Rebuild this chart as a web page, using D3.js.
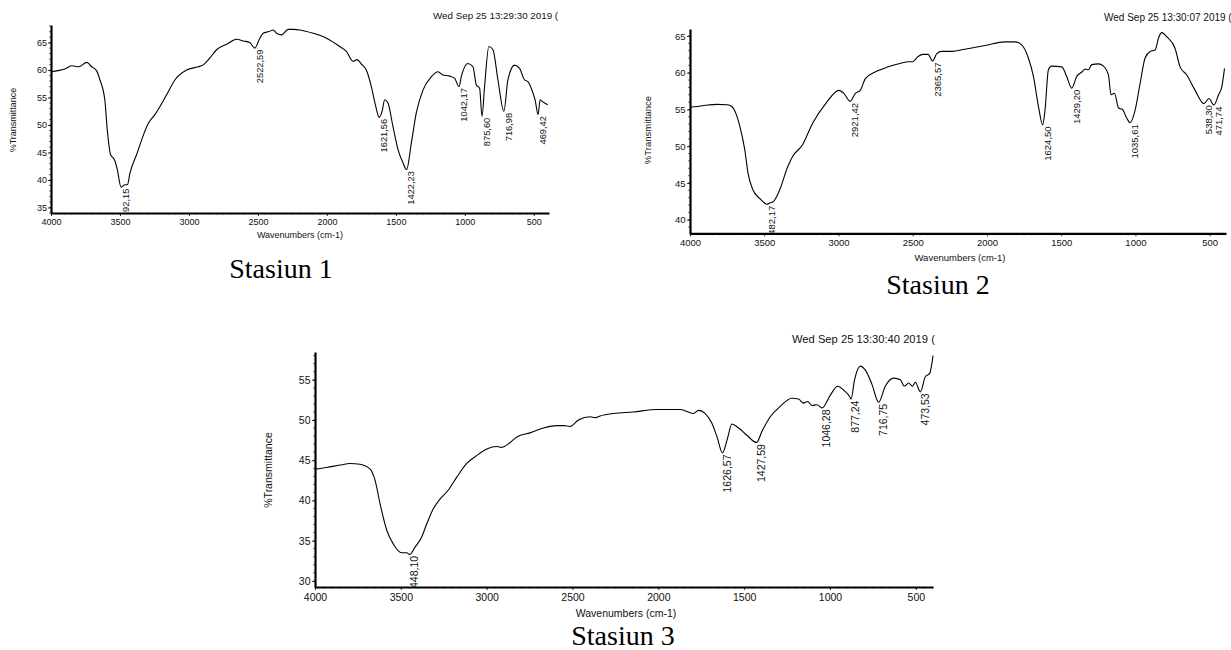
<!DOCTYPE html>
<html>
<head>
<meta charset="utf-8">
<script src="https://cdn.jsdelivr.net/npm/d3@7"></script>
<style>
  body { margin: 0; background: #fff; }
  svg { display: block; }
  text { font-family: "Liberation Sans", Arial, sans-serif; fill: #111; }
  .caption { font-family: "Liberation Serif", "Times New Roman", serif; fill: #000; }
</style>
</head>
<body>
<svg id="fig" width="1231" height="650"></svg>
<script>
// ---- FTIR spectra (wavenumber in cm-1, %T) ----
const wn1 = [4000,3950,3900,3850,3800,3740,3705,3670,3645,3610,3592,3568,3540,3520,3492.15,3471,3445,3428,3380,3295,3247,3162,3102,3017,2933,2900,2848,2800,2720,2655,2607,2559,2522.59,2490,2462,2420,2390,2365,2329,2281,2240,2197,2100,2003,1907,1859,1810,1781,1750,1714,1678,1646,1621.56,1600,1581,1557,1521,1484,1448,1422.23,1388,1352,1303,1243,1195,1159,1110,1074,1042.17,1026,978,941,917,893,875.60,857,826,796,760,716.98,688,640,603,567,543,519,490,469.42,454,440,422,400];
const t1 = [59.7,59.9,60.2,60.8,60.6,61.4,60.6,59.9,58.2,54.6,49.1,44.6,43.7,42.0,38.7,39.1,39.2,41.2,44.6,50.3,51.9,55.5,58.2,60.0,60.6,60.9,62.2,63.7,64.8,65.6,65.3,65.0,64.0,65.6,66.7,67.0,67.3,66.7,66.4,67.4,67.4,67.3,66.7,65.8,64.3,63.4,61.6,61.9,61.1,60.0,57.0,53.4,51.4,52.5,54.6,54.0,49.7,45.5,43.1,41.9,46.7,52.2,56.4,58.8,59.7,59.1,58.9,58.5,57.0,58.8,61.2,60.6,57.3,56.7,51.6,57.0,64.3,63.7,58.2,52.5,58.2,60.9,60.3,58.2,57.9,56.7,54.5,51.9,54.6,54.3,54.0,53.7];
const peaks1 = [3492.15,2522.59,1621.56,1422.23,1042.17,875.60,716.98,469.42];

const wn2 = [4000,3950,3880,3820,3750,3719,3686,3664,3631,3609,3575,3531,3500,3482.17,3460,3442,3397,3342,3309,3242,3175,3086,2997,2964,2921.42,2886,2853,2819,2753,2664,2580,2531,2500,2464,2431,2397,2365.57,2338,2305,2237,2148,2013,1878,1811,1766,1721,1687,1653,1624.50,1609,1586,1564,1496,1463,1429.20,1395,1361,1339,1317,1294,1249,1215,1182,1164,1141,1114,1087,1058,1035.61,1002,968,935,901,867,845,822,789,733,699,654,598,538.30,505,471.74,440,418,400];
const t2 = [55.3,55.4,55.6,55.7,55.65,55.4,54.2,52.7,49.5,46.3,44.0,42.9,42.3,42.1,42.3,42.4,44.0,47.2,48.6,50.2,53.1,55.8,57.6,57.2,56.1,57.2,57.6,59.2,60.1,60.8,61.3,61.5,61.5,62.2,62.5,62.5,61.6,62.6,62.9,62.9,63.2,63.7,64.2,64.2,63.8,62.0,59.5,55.4,52.9,54.9,60.4,60.9,60.8,59.5,57.9,59.5,60.1,60.5,60.4,61.1,61.2,60.9,59.7,57.0,57.2,55.2,55.0,53.8,53.2,54.9,58.6,62.0,62.9,63.1,64.7,65.45,64.9,63.3,60.8,59.7,57.6,55.8,56.5,55.6,57.0,58.1,60.6];
const peaks2 = [3482.17,2921.42,2365.57,1624.50,1429.20,1035.61,538.30,471.74];

const wn3 = [4000,3932,3854,3796,3738,3679,3650,3621,3582,3544,3495,3466,3448.10,3417,3378,3349,3310,3271,3223,3174,3116,3057,2999,2941,2912,2863,2824,2747,2669,2591,2552,2514,2465,2397,2368,2339,2261,2145,2008,1872,1795,1766,1727,1688,1658,1626.57,1600,1571,1532,1484,1427.59,1396,1348,1290,1222,1183,1154,1130,1105,1076,1046.28,998,955,920,885,877.24,857,823,794,755,716.75,678,629,590,567,542,520,503,473.53,444,419,400];
const t3 = [43.9,44.1,44.4,44.6,44.5,43.9,42.5,39.6,36.3,34.6,33.5,33.5,33.3,34.2,35.5,37.1,39.0,40.2,41.3,42.9,44.6,45.6,46.4,46.7,46.6,47.2,47.9,48.4,49.0,49.3,49.3,49.2,50.0,50.4,50.3,50.5,50.8,51.0,51.3,51.3,50.8,51.2,50.8,49.6,47.9,45.9,47.5,49.5,49.0,48.1,47.2,48.6,50.4,51.7,52.7,52.6,52.1,52.3,51.8,51.9,51.5,53.1,54.2,53.7,52.9,52.6,55.0,56.7,56.2,54.4,52.2,54.2,55.2,55.0,54.2,54.6,54.2,54.7,53.5,55.4,55.8,58.0];
const peaks3 = [3448.10,1626.57,1427.59,1046.28,877.24,716.75,473.53];

const xTicks = [4000,3500,3000,2500,2000,1500,1000,500];
const yTicks1 = [35,40,45,50,55,60,65];
const yTicks2 = [40,45,50,55,60,65];
const yTicks3 = [30,35,40,45,50,55];

const stamps = ["Wed Sep 25 13:29:30 2019 (",
                "Wed Sep 25 13:30:07 2019 (",
                "Wed Sep 25 13:30:40 2019 ("];
const captions = ["Stasiun 1", "Stasiun 2", "Stasiun 3"];
const xTitle = "Wavenumbers (cm-1)";
const yTitle = "%Transmittance";

// ---- panel geometry ----
const panels = [
  { wn: wn1, t: t1, peaks: peaks1, yTicks: yTicks1, stamp: stamps[0], caption: captions[0],
    left: 51, right: 549, top: 25, bottom: 213, xDomain: [4000, 390], yDomain: [34, 68.2],
    font: 9, peakFont: 9.3, stampFont: 9.8, stampPos: [433, 19], xTitlePos: [300, 238], yTitlePos: [13, 120],
    captionPos: [281, 278], xPad: 2.5, yPad: 1 },
  { wn: wn2, t: t2, peaks: peaks2, yTicks: yTicks2, stamp: stamps[1], caption: captions[1],
    left: 690, right: 1226, top: 29, bottom: 233.3, xDomain: [4000, 390], yDomain: [38.15, 65.95],
    font: 9.5, peakFont: 9.5, stampFont: 10, stampPos: [1104, 21], xTitlePos: [960, 260.5], yTitlePos: [648, 130],
    captionPos: [938, 294], xPad: 3, yPad: 1.5 },
  { wn: wn3, t: t3, peaks: peaks3, yTicks: yTicks3, stamp: stamps[2], caption: captions[2],
    left: 315, right: 933, top: 352, bottom: 587, xDomain: [4000, 400], yDomain: [29.25, 58.45],
    font: 10.5, peakFont: 10.5, stampFont: 11.2, stampPos: [792, 343], xTitlePos: [626, 617], yTitlePos: [268, 470],
    captionPos: [623, 645], xPad: 3.3, yPad: 1.5 }
];

const svg = d3.select("#fig");
const fmt = d3.format(".2f");

panels.forEach((p, i) => {
  const x = d3.scaleLinear().domain(p.xDomain).range([p.left, p.right]);
  const y = d3.scaleLinear().domain(p.yDomain).range([p.bottom, p.top]);

  // plotting-area clip for the trace and its band labels
  svg.append("defs").append("clipPath").attr("id", "plot" + i)
    .append("rect").attr("x", p.left).attr("y", p.top - 2)
    .attr("width", p.right - p.left + 2).attr("height", p.bottom - p.top + 2);

  const g = svg.append("g");

  // minor ticks
  const yMinor = d3.range(Math.ceil(p.yDomain[0]), Math.floor(p.yDomain[1]) + 1);
  g.append("g").selectAll("line").data(yMinor).join("line")
    .attr("x1", p.left - 2).attr("x2", p.left)
    .attr("y1", d => y(d)).attr("y2", d => y(d))
    .attr("stroke", "#333").attr("stroke-width", 0.7);
  const xMinor = d3.range(4000, p.xDomain[1] - 1, -50);
  g.append("g").selectAll("line").data(xMinor).join("line")
    .attr("x1", d => x(d)).attr("x2", d => x(d))
    .attr("y1", p.bottom).attr("y2", p.bottom + 2)
    .attr("stroke", "#666").attr("stroke-width", 0.6);

  // axes
  const xAxis = g.append("g").attr("transform", `translate(0,${p.bottom})`)
    .call(d3.axisBottom(x).tickValues(xTicks).tickFormat(d3.format("d"))
      .tickSize(3).tickSizeOuter(0).tickPadding(p.xPad));
  const yAxis = g.append("g").attr("transform", `translate(${p.left},0)`)
    .call(d3.axisLeft(y).tickValues(p.yTicks).tickFormat(d3.format("d"))
      .tickSize(3).tickSizeOuter(0).tickPadding(p.yPad));
  [xAxis, yAxis].forEach(a => {
    a.select(".domain").attr("stroke", "#000").attr("stroke-width", 2.2);
    a.selectAll(".tick line").attr("stroke", "#000").attr("stroke-width", 0.8);
    a.selectAll(".tick text").attr("font-size", p.font)
      .attr("font-family", "Liberation Sans, Arial, sans-serif").attr("fill", "#111");
  });

  // spectrum
  const pts = p.wn.map((w, k) => [w, p.t[k]]);
  g.append("path").datum(pts)
    .attr("clip-path", `url(#plot${i})`)
    .attr("fill", "none").attr("stroke", "#000").attr("stroke-width", 1.1)
    .attr("stroke-linejoin", "round")
    .attr("d", d3.line().x(d => x(d[0])).y(d => y(d[1])).curve(d3.curveMonotoneX));

  // peak labels, placed just below each band minimum
  const tAt = w => p.t[d3.minIndex(p.wn, v => Math.abs(v - w))];
  g.append("g").attr("clip-path", `url(#plot${i})`)
    .selectAll("text").data(p.peaks).join("text")
    .attr("transform", w => `translate(${x(w) + 4.5},${y(tAt(w)) + 1.5}) rotate(-90)`)
    .attr("text-anchor", "end").attr("dy", "0.35em")
    .attr("font-size", p.peakFont)
    .text(w => fmt(w).replace(".", ","));

  // titles
  svg.append("text")
    .attr("x", p.stampPos[0]).attr("y", p.stampPos[1])
    .attr("font-size", p.stampFont).text(p.stamp);
  svg.append("text").attr("x", p.xTitlePos[0]).attr("y", p.xTitlePos[1])
    .attr("text-anchor", "middle").attr("font-size", p.font).text(xTitle);
  svg.append("text")
    .attr("transform", `translate(${p.yTitlePos[0]},${p.yTitlePos[1]}) rotate(-90)`)
    .attr("text-anchor", "middle").attr("dy", "0.35em")
    .attr("font-size", p.font).text(yTitle);
  svg.append("text").attr("class", "caption")
    .attr("x", p.captionPos[0]).attr("y", p.captionPos[1])
    .attr("text-anchor", "middle").attr("font-size", 28).text(p.caption);
});
</script>
</body>
</html>
